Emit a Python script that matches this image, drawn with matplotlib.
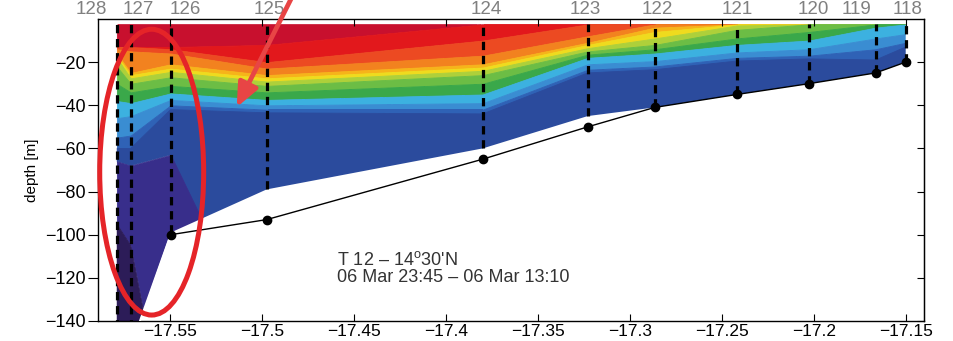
"""Temperature section T 12 along 14°30'N (contour-band style)."""

import numpy as np
import matplotlib
matplotlib.use("Agg")
import matplotlib.pyplot as plt
from matplotlib.patches import Polygon, Ellipse
from matplotlib.ticker import FuncFormatter

plt.rcParams["font.family"] = ["Liberation Sans", "DejaVu Sans"]
plt.rcParams["mathtext.fontset"] = "custom"
plt.rcParams["mathtext.rm"] = "Liberation Sans"

# stations, west -> east
stations = [128, 127, 126, 125, 124, 123, 122, 121, 120, 119, 118]
lon = [-17.5788, -17.5712, -17.5495, -17.4973, -17.3799, -17.3228,
       -17.2864, -17.2418, -17.2027, -17.1663, -17.150]
bottom_depth = [-175, -152, -100, -93, -65, -50, -41, -35, -30, -25, -20]
cast_bottom = [-175, -152, -99, -79, -60, -45, -41, -35, -30, -25, -20]
cast_top = -2.5

# lower edge (m) of each temperature band at every station
band_colors = ["#c8102e", "#e2181c", "#ec4a22", "#f2821f", "#f6b41a",
               "#efdb1e", "#aed03a", "#6cbd45", "#3aa84a", "#3cb1e0",
               "#3a8dd2", "#2f62b6", "#2b4b9d", "#382e8b", "#2c1c58"]
band_lower = [
    [-13, -13, -13, -12, -2.5, -2.5, -2.5, -2.5, -2.5, -2.5, -2.5],
    [-13, -13, -14, -20, -10, -2.5, -2.5, -2.5, -2.5, -2.5, -2.5],
    [-14, -15, -16, -23, -17, -8, -2.5, -2.5, -2.5, -2.5, -2.5],
    [-16, -25, -21, -26, -21, -11, -4, -2.5, -2.5, -2.5, -2.5],
    [-17, -26, -23, -27.5, -22.5, -12, -6, -2.5, -2.5, -2.5, -2.5],
    [-18, -27.5, -24.5, -29, -24, -13.5, -9, -3, -2.5, -2.5, -2.5],
    [-22, -30, -27, -31, -26, -15, -12, -5, -2.5, -2.5, -2.5],
    [-30, -34, -31, -34, -30, -16.5, -14, -9, -6, -2.5, -2.5],
    [-38, -39, -34.5, -37.5, -35, -18, -16, -12, -10, -4, -2.5],
    [-46, -45, -37.5, -40, -39, -21, -19.5, -15.5, -14, -9, -7],
    [-55, -54, -40, -42, -42, -23.5, -22, -18, -17, -14, -11],
    [-60, -60, -42, -43.5, -44, -25, -23.5, -19.5, -18.5, -19, -13],
    [-66, -68, -63, -155, -200, -200, -200, -200, -200, -200, -200],
    [-95, -105, -200, -200, -200, -200, -200, -200, -200, -200, -200],
    [-300, -300, -300, -300, -300, -300, -300, -300, -300, -300, -300],
]

# horizontal nudge of the station labels (pixels)
label_shift = [-25, 8, 15, 3, 4, -2, 3, 0, 5, -19, 2]

fig = plt.figure(figsize=(9.54, 3.41), dpi=100)
ax = fig.add_axes([0.1027, 0.0587, 0.8659, 0.8856])
ax.set_xlim(-17.589, -17.140)
ax.set_ylim(-140, 0)

# area actually sampled by the casts
region = Polygon(
    np.column_stack([np.r_[lon, lon[::-1]],
                     np.r_[np.full(len(lon), cast_top), cast_bottom[::-1]]]),
    closed=True, transform=ax.transData, facecolor="none", edgecolor="none")
ax.add_patch(region)

upper = np.full(len(lon), cast_top)
for color, lower in zip(band_colors, band_lower):
    poly = ax.fill_between(lon, upper, lower, facecolor=color,
                           edgecolor=color, lw=0.6)
    poly.set_clip_path(region)
    upper = np.array(lower)

# station casts
ax.vlines(lon, cast_bottom, cast_top, colors="k", lw=2.3,
          linestyles=(0, (2.6, 1.8)), zorder=3)

# sea floor
ax.plot(lon[:3], bottom_depth[:3], color="white", lw=1.4, zorder=4)
ax.plot(lon[2:], bottom_depth[2:], color="k", lw=1, marker="o", ms=6,
        zorder=4)

for st, x, dx in zip(stations, lon, label_shift):
    ax.annotate(str(st), xy=(x, 1.0), xycoords=("data", "axes fraction"),
                xytext=(dx * 0.72, 0.5), textcoords="offset points",
                ha="center", va="bottom", fontsize=13.5, color="#808080",
                annotation_clip=False)

ax.text(-17.4592, -115.5, "T 12 \u2013 14$^{\\rm o}$30'N\n06 Mar 23:45 \u2013 06 Mar 13:10",
        ha="left", va="center", fontsize=13, color="#333333", linespacing=1.0)

# ticks
ax.set_xticks(np.arange(-17.55, -17.149, 0.05))
ax.set_yticks(np.arange(-140, -19, 20))
ax.xaxis.set_major_formatter(FuncFormatter(lambda v, p: f"{v:g}".replace("-", "\u2212")))
ax.yaxis.set_major_formatter(FuncFormatter(lambda v, p: f"{v:g}".replace("-", "\u2212")))
ax.tick_params(axis="x", direction="in", top=True, length=5, labelsize=12.5, pad=2)
ax.tick_params(axis="y", direction="out", length=7, labelsize=13, pad=2)
sec = ax.secondary_yaxis("right")
sec.set_yticks(np.arange(-140, -19, 20))
sec.tick_params(direction="in", length=5, labelright=False)
ax.set_ylabel("depth [m]", fontsize=11, labelpad=4)
for s in ax.spines.values():
    s.set_linewidth(1.0)

# red highlight marks
ax.add_patch(Ellipse((-17.5598, -71), 0.0565, 132.5, fill=False,
                     edgecolor="#e52428", lw=3.6, zorder=6, clip_on=False))
ax.annotate("", xy=(-17.5136, -40.9), xycoords="data",
            xytext=(293, 346), textcoords="figure pixels",
            arrowprops=dict(arrowstyle="-|>,head_length=0.8,head_width=0.35",
                            lw=3.4, color="#e84545", mutation_scale=18,
                            shrinkA=0, shrinkB=0),
            annotation_clip=False, zorder=6)

fig.savefig("out.png", dpi=100, facecolor="white")
plt.close(fig)
